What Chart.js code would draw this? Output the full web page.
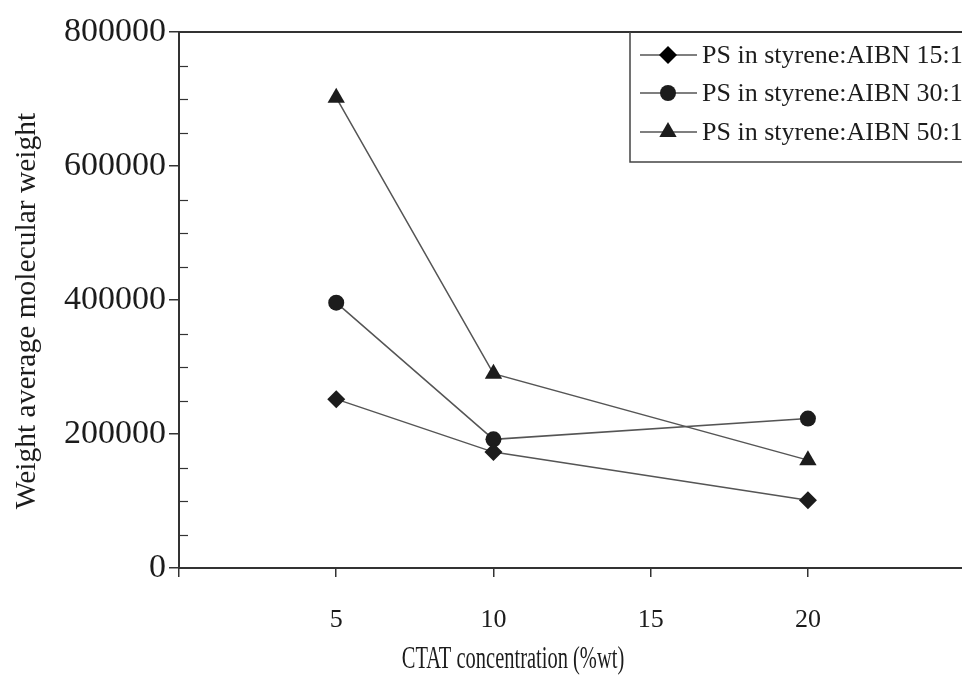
<!DOCTYPE html>
<html>
<head>
<meta charset="utf-8">
<script src="https://cdn.jsdelivr.net/npm/chart.js@4.4.1/dist/chart.umd.min.js"></script>
<style>
  html, body { margin: 0; padding: 0; background: #fff; overflow: hidden; }
  canvas { display: block; }
</style>
</head>
<body>
<canvas id="mwChart" width="962" height="675"></canvas>
<script>
// CTAT concentration (%wt) and weight average molecular weight per series
const concentrations = [5, 10, 20];
const mw15 = [252000, 173000, 101000];
const mw30 = [396000, 192000, 223000];
const mw50 = [702000, 290000, 161000];
const seriesLabels = ['PS in styrene:AIBN 15:1', 'PS in styrene:AIBN 30:1', 'PS in styrene:AIBN 50:1'];
const markerStyles = ['rectRot', 'circle', 'triangle'];
const xTickValues = [0, 5, 10, 15, 20];
const yMinorStep = 50000;

const serif = 'Liberation Serif, Times New Roman, serif';
const ink = '#1c1c1c';

function toPoints(ys) {
    return concentrations.map((x, i) => ({ x: x, y: ys[i] }));
}

// frame top line, inner minor ticks, legend box and axis titles
const extras = {
    id: 'extras',
    afterDraw(chart) {
        const c = chart.ctx;
        const area = chart.chartArea;
        const yScale = chart.scales.y;
        c.save();
        c.strokeStyle = '#333';
        c.lineWidth = 2;
        c.beginPath();
        c.moveTo(area.left, area.top);
        c.lineTo(chart.width, area.top);
        c.stroke();

        // minor ticks pointing inside
        c.lineWidth = 1.2;
        for (let v = yMinorStep; v < yScale.max; v += yMinorStep) {
            if (v % 200000 === 0) continue;
            const py = Math.round(yScale.getPixelForValue(v)) + 0.5;
            c.beginPath();
            c.moveTo(area.left, py);
            c.lineTo(area.left + 9, py);
            c.stroke();
        }

        // legend
        const boxLeft = 630, boxBottom = 162;
        c.lineWidth = 1.5;
        c.strokeStyle = '#444';
        c.beginPath();
        c.moveTo(boxLeft, area.top);
        c.lineTo(boxLeft, boxBottom);
        c.lineTo(chart.width, boxBottom);
        c.stroke();
        const rows = [55, 93, 132];
        chart.data.datasets.forEach((ds, i) => {
            const y = rows[i];
            c.strokeStyle = '#555';
            c.lineWidth = 1.5;
            c.beginPath();
            c.moveTo(640, y);
            c.lineTo(697, y);
            c.stroke();
            Chart.helpers.drawPoint(c, {
                pointStyle: ds.pointStyle,
                radius: ds.pointRadius,
                borderWidth: 0
            }, 668, y);
            c.fillStyle = ink;
            c.font = '26px ' + serif;
            c.textBaseline = 'middle';
            c.textAlign = 'left';
            c.fillText(ds.label, 702, y + 1);
        });

        // axis titles
        c.fillStyle = ink;
        c.textAlign = 'center';
        c.textBaseline = 'middle';
        c.save();
        c.translate(513, 660);
        c.scale(0.64, 1);
        c.font = '32px ' + serif;
        c.fillText('CTAT concentration (%wt)', 0, 0);
        c.restore();
        c.translate(27, 311);
        c.rotate(-Math.PI / 2);
        c.font = '29.5px ' + serif;
        c.fillText('Weight average molecular weight', 0, 0);
        c.restore();
    }
};

const makeSet = (label, ys, i, radius) => ({
    label: label,
    data: toPoints(ys),
    borderColor: '#555',
    borderWidth: 1.5,
    pointStyle: markerStyles[i],
    pointRadius: radius,
    pointBackgroundColor: ink,
    pointBorderColor: ink,
    pointBorderWidth: 0,
    fill: false,
    tension: 0
});

const ctx = document.getElementById('mwChart').getContext('2d');
const mwChart = new Chart(ctx, {
    type: 'line',
    data: {
        datasets: [
            makeSet(seriesLabels[0], mw15, 0, 9),
            makeSet(seriesLabels[1], mw30, 1, 8),
            makeSet(seriesLabels[2], mw50, 2, 10)
        ]
    },
    options: {
        responsive: false,
        animation: false,
        layout: { autoPadding: false, padding: { top: 32, right: 0, left: 0, bottom: 0 } },
        plugins: {
            legend: { display: false },
            tooltip: { enabled: false }
        },
        scales: {
            x: {
                type: 'linear',
                min: 0,
                max: 24.9,
                afterBuildTicks: (scale) => {
                    scale.ticks = xTickValues.map(v => ({ value: v }));
                },
                afterFit: (scale) => {
                    scale.height = 107;
                    scale.paddingLeft = 0;
                    scale.paddingRight = 0;
                },
                grid: { drawOnChartArea: false, tickLength: 9, color: '#333', lineWidth: 1.5 },
                border: { color: '#333', width: 2 },
                ticks: {
                    padding: 28,
                    color: ink,
                    font: { family: serif, size: 26 },
                    maxRotation: 0,
                    callback: (v) => (v === 0 ? '' : v)
                }
            },
            y: {
                min: 0,
                max: 800000,
                afterFit: (scale) => {
                    scale.width = 179;
                    scale.paddingTop = 0;
                    scale.paddingBottom = 0;
                },
                grid: { drawOnChartArea: false, tickLength: 10, color: '#333', lineWidth: 1.5 },
                border: { color: '#333', width: 2 },
                ticks: {
                    stepSize: 200000,
                    padding: 3,
                    color: ink,
                    font: { family: serif, size: 34 },
                    callback: (v) => String(v)
                }
            }
        }
    },
    plugins: [extras]
});
</script>
</body>
</html>
